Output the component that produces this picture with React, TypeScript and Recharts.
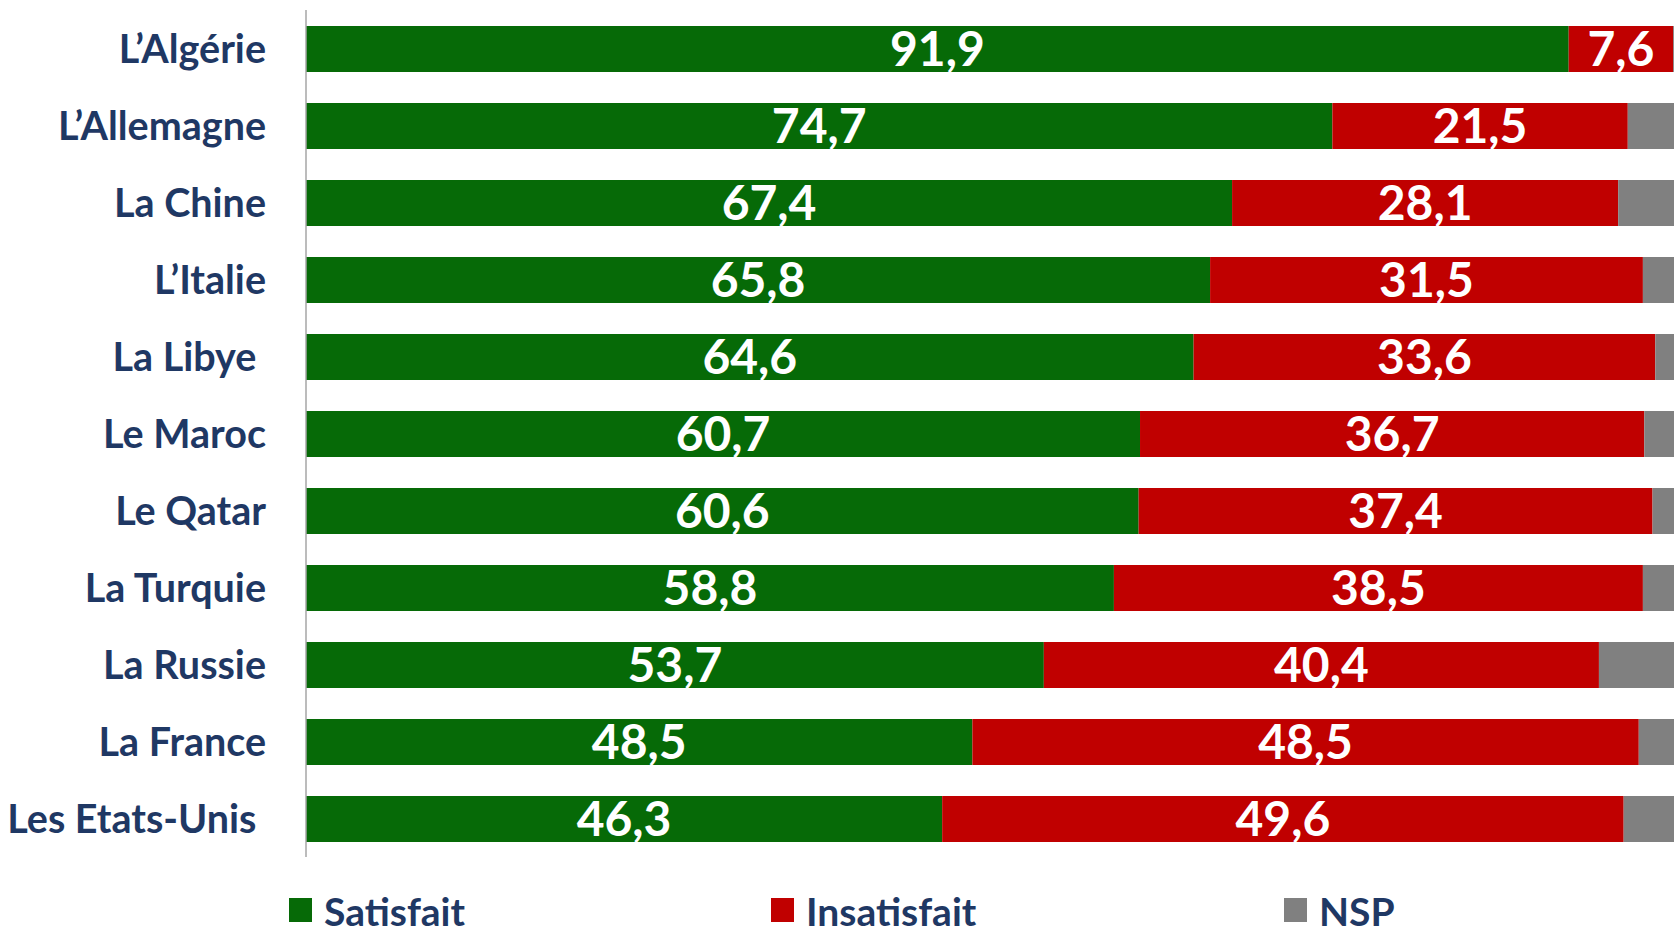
import React from 'react';
import { BarChart, Bar, XAxis, YAxis, LabelList } from 'recharts';

// Pays (ordre du haut vers le bas)
const countries = [
  'L\u2019Alg\u00e9rie',
  'L\u2019Allemagne',
  'La Chine',
  'L\u2019Italie',
  'La Libye ',
  'Le Maroc',
  'Le Qatar',
  'La Turquie',
  'La Russie',
  'La France',
  'Les Etats-Unis ',
];

const satisfait = [91.9, 74.7, 67.4, 65.8, 64.6, 60.7, 60.6, 58.8, 53.7, 48.5, 46.3];
const insatisfait = [7.6, 21.5, 28.1, 31.5, 33.6, 36.7, 37.4, 38.5, 40.4, 48.5, 49.6];
const nsp = [0.5, 3.8, 4.5, 2.7, 1.8, 2.6, 2.0, 2.7, 5.9, 3.0, 4.1];

const seriesNames = ['Satisfait', 'Insatisfait', 'NSP'];
const colors = ['#066A07', '#C00000', '#808080'];
const legendLeft = [289, 771, 1284];

const FONT = 'Lato, "Open Sans", sans-serif';
const TEXT_COLOR = '#1F3864';

const data = countries.map((c, i) => ({
  country: c,
  satisfait: satisfait[i],
  insatisfait: insatisfait[i],
  nsp: nsp[i],
}));

const fmt = (v: any) => (typeof v === 'number' ? v.toFixed(1).replace('.', ',') : v);

const CountryTick = (props: any) => {
  const { x, y, payload } = props;
  return (
    <text
      x={x}
      y={y}
      dy={14}
      textAnchor="end"
      fill={TEXT_COLOR}
      fontFamily={FONT}
      fontWeight={700}
      fontSize={39.5}
      style={{ whiteSpace: 'pre' }}
    >
      {payload.value}
    </text>
  );
};

export default function App() {
  return (
    <div
      style={{
        position: 'absolute',
        left: 0,
        top: 0,
        width: 1674,
        height: 926,
        overflow: 'hidden',
        background: '#fff',
      }}
    >
      <BarChart
        width={1680}
        height={857}
        data={data}
        layout="vertical"
        margin={{ top: 10, right: 0, bottom: 0, left: 0 }}
        barSize={46}
      >
        <XAxis type="number" domain={[0, 100]} hide />
        <YAxis
          type="category"
          dataKey="country"
          width={306}
          axisLine={{ stroke: '#A6A6A6', strokeWidth: 1.5 }}
          tickLine={false}
          tickSize={0}
          tickMargin={40}
          tick={<CountryTick />}
          interval={0}
        />
        <Bar dataKey="satisfait" stackId="a" fill={colors[0]} isAnimationActive={false}>
          <LabelList
            dataKey="satisfait"
            position="center"
            formatter={fmt}
            fill="#fff"
            fontSize={48}
            fontWeight={700}
            fontFamily={FONT}
          />
        </Bar>
        <Bar dataKey="insatisfait" stackId="a" fill={colors[1]} isAnimationActive={false}>
          <LabelList
            dataKey="insatisfait"
            position="center"
            formatter={fmt}
            fill="#fff"
            fontSize={48}
            fontWeight={700}
            fontFamily={FONT}
          />
        </Bar>
        <Bar dataKey="nsp" stackId="a" fill={colors[2]} isAnimationActive={false} />
      </BarChart>

      {/* légende (au ras du bas, comme dans l'original) */}
      {seriesNames.map((name, i) => (
        <div
          key={name}
          style={{
            position: 'absolute',
            left: legendLeft[i],
            top: 885,
            height: 44,
            display: 'flex',
            alignItems: 'center',
            fontFamily: FONT,
            fontWeight: 700,
            fontSize: 39,
            color: TEXT_COLOR,
            whiteSpace: 'nowrap',
          }}
        >
          <span
            style={{
              display: 'inline-block',
              width: 23,
              height: 24,
              background: colors[i],
              marginRight: 12,
              marginTop: 6,
            }}
          />
          <span style={{ position: 'relative', top: 4 }}>{name}</span>
        </div>
      ))}
    </div>
  );
}
